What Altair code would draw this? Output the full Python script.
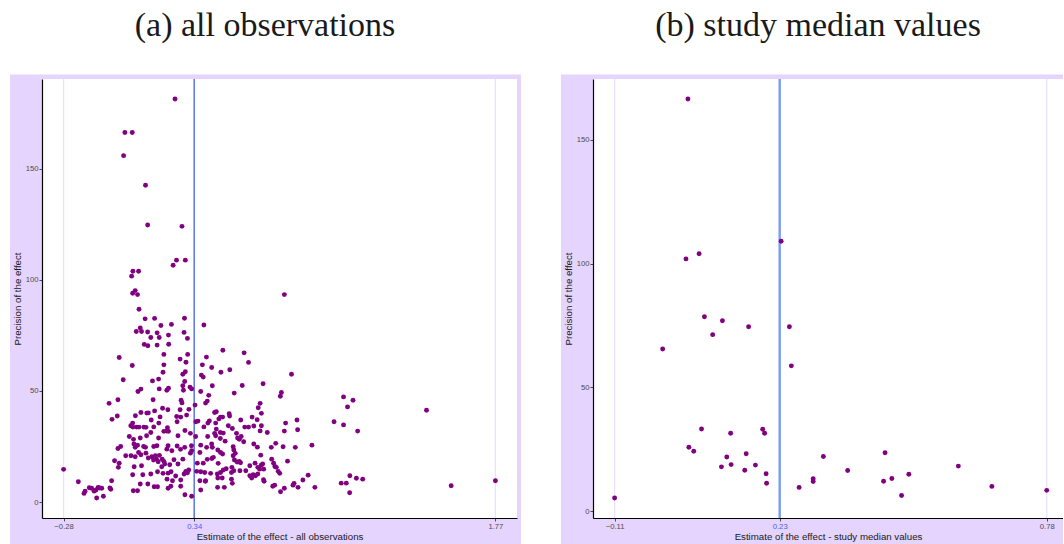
import altair as alt
import pandas as pd

# ---------------- data ----------------
left_x = [
    0.249, 0.011, 0.046, 0.005, 0.109, 0.119, 0.282,
    0.256, 0.298, 0.240, 0.049, 0.076, 0.043, 0.060, 0.048, 0.071, 0.768, 0.078, 0.107, 0.152,
    0.294, 0.386, 0.182, 0.232, 0.084, 0.065, 0.090, 0.119, 0.164, 0.292, 0.134, 0.174, 0.218,
    0.308, 0.103, 0.120, 0.164, 0.219, 0.476, 0.577, 0.196, 0.309, -0.016, 0.398, 0.273, 0.301,
    0.598, 0.046, 0.196, 0.379, 0.423, 0.509, 0.467, 0.192, 0.298, 0.286, 0.802, 0.374, 0.383,
    0.003, 0.142, 0.171, 0.295, 0.286, 0.426, 0.568, 0.667, 0.320, 0.218, 0.174, 0.087,
    0.073, 0.210, 0.328, 0.289, 0.371, -0.022, -0.064, 0.145, 0.278, 0.282, 0.344, 0.394, 0.402,
    0.409, 0.190, 0.215, 0.152, 0.115, 0.122, 0.273, 0.315, 0.087, -0.025, -0.050, 0.136, 0.178,
    0.257, 0.304, 0.048, 0.049, 0.067, 0.078, 0.101, 0.111, 0.172, 0.213, 0.210, 0.148, 0.196,
    0.259, 0.276, 0.296, 0.348, 0.358, 0.405, 0.412, 0.442, 0.457, 0.386, 0.464, 0.442, 0.404,
    0.263, 0.347, 0.322, 0.218, 0.032, 0.052, 0.084, 0.114, 0.134, 0.171, 0.054, 0.060, 0.071,
    0.109, 0.100, 0.148, 0.163, 0.216, 0.210, 0.259, 0.275, 0.295, 0.327, 0.234, 0.371, 0.399,
    0.328, 0.322, 0.367, -0.022, -0.009, 0.015, 0.040, 0.060, 0.076, 0.087, 0.111, 0.122, 0.139,
    0.147, 0.156, 0.175, 0.161, 0.169, 0.188, 0.196, 0.200, 0.186, 0.224, 0.244, 0.263, 0.286,
    0.300, 0.308, 0.292, 0.314, 0.352, 0.371, 0.390, 0.355, 0.383, 0.402, 0.424, 0.454, 0.450,
    0.055, 0.090, 0.096, 0.134, 0.166, 0.192, 0.216, 0.230, 0.252, 0.211, 0.237, 0.276, 0.367,
    0.394, 0.452, 0.048, 0.084, 0.120, 0.150, 0.166, 0.216, 0.229, 0.276, 0.051, 0.071, 0.371,
    0.393, 0.296, 0.328, -0.052, -0.020, -0.016,
    0.754, 0.749, 0.530, 0.653, 0.644, 0.659, 0.615, 0.561, 0.639, 0.580, 0.598, 0.623, 0.659,
    0.653, 0.687, 0.774, 0.768, 0.828, 0.831, 1.004, 0.437, 0.445, 0.465, 0.475, 0.506, 0.508,
    0.502, 0.521, 0.445, 0.437, 0.478, 0.541, 0.464, 0.487, 0.546, 0.563, 0.554, 0.575, 0.423,
    0.426, 0.525, 0.623, 0.640, 0.706, 0.727, 0.762, 0.820, 0.899, 0.452, 0.465, 0.475, 0.528,
    0.535, 0.525, 0.656, 0.431, 0.531, 0.544, 0.554, 0.560, 0.519, 0.708, 0.717, 0.629, 0.783,
    0.418, 0.465, 0.478, 0.492, 0.517, 0.528, 0.557, 0.585, 0.604, 0.642, 0.651, 0.658, 0.665,
    0.670, 0.730, 0.739, 0.746, 0.604, 0.613, 0.620, 0.631, 0.642, 0.669, 0.672, 0.473, 0.517,
    0.521, 0.451, 0.483, 0.713, 0.722, 0.750, 0.768, 0.809, 0.814, 0.833, 0.856, 0.881, 0.913,
    1.049, 1.094, 1.068, 1.443, 1.049, 1.116, 1.079, 1.038, 1.062, 1.110, 1.140, 1.078, 1.560,
    1.770, 0.723,
    -0.280, -0.210, -0.183, -0.178, -0.158, -0.147, -0.135, -0.123, -0.116, -0.108, -0.099,
    -0.091, -0.060, -0.056, -0.038, -0.126, 0.061, 0.039,
]
left_y = [
    181.3, 166.2, 166.2, 155.8, 142.5, 124.6, 124.0,
    108.8, 108.8, 106.5, 103.8, 103.8, 101.6, 95.1, 93.9, 93.3, 93.3, 86.7, 82.4, 82.6,
    82.7, 79.6, 79.4, 79.9, 78.3, 76.7, 76.7, 76.5, 76.1, 76.3, 74.0, 74.0, 75.1,
    73.6, 70.9, 70.3, 70.6, 71.0, 68.3, 67.1, 66.4, 66.4, 65.0, 65.2, 64.3, 62.9,
    62.8, 61.4, 61.7, 61.7, 60.5, 59.5, 58.4, 58.4, 58.6, 57.5, 57.5, 57.1, 56.2,
    55.0, 54.5, 55.3, 54.2, 52.3, 52.3, 52.4, 53.2, 51.7, 51.2, 50.9, 50.8,
    49.7, 50.3, 50.9, 50.3, 49.7, 46.0, 44.4, 46.0, 45.8, 44.6, 43.6, 44.5, 45.4,
    48.0, 42.2, 41.5, 41.0, 40.0, 40.1, 41.5, 41.7, 40.3, 38.7, 37.2, 36.9, 38.3,
    38.5, 39.1, 35.5, 33.7, 33.7, 33.7, 33.7, 33.6, 35.5, 33.4, 31.9, 33.8, 31.8,
    36.1, 38.2, 32.2, 36.1, 36.4, 35.5, 36.5, 35.5, 37.4, 33.8, 31.3, 29.8, 29.5,
    29.8, 29.5, 30.9, 31.8, 29.5, 28.2, 28.8, 29.8, 31.3, 28.8, 26.1, 24.6, 25.6,
    24.6, 25.0, 25.0, 25.3, 25.3, 23.8, 25.2, 23.7, 24.6, 25.3, 23.1, 25.6, 24.6,
    23.1, 22.0, 22.3, 24.1, 25.0, 20.8, 20.8, 20.4, 22.3, 21.3, 22.0, 19.8, 20.4,
    18.9, 20.8, 21.0, 19.3, 18.1, 19.3, 18.3, 17.1, 15.9, 16.8, 19.0, 17.1, 19.3,
    13.8, 13.2, 12.6, 14.4, 13.8, 13.6, 13.3, 17.5, 17.5, 19.2, 19.6, 17.4, 12.6,
    15.9, 16.3, 12.3, 12.6, 13.6, 12.9, 13.0, 13.6, 11.7, 10.3, 9.6, 9.9, 9.6,
    9.6, 10.8, 12.3, 8.1, 8.1, 6.9, 6.9, 6.2, 7.1, 7.1, 5.1, 5.1, 5.4,
    9.3, 3.3, 2.6, 9.6, 15.6, 17.5,
    49.3, 47.6, 49.0, 44.4, 42.4, 39.9, 38.2, 36.9, 37.0, 33.7, 33.7, 34.2, 34.3,
    32.0, 31.3, 35.5, 31.9, 36.9, 32.5, 36.1, 40.3, 40.6, 38.2, 38.2, 39.7, 38.7,
    34.3, 33.1, 32.8, 30.9, 31.0, 30.9, 28.6, 27.4, 28.8, 29.5, 28.2, 27.1, 26.1,
    24.6, 24.9, 26.1, 24.7, 24.6, 26.4, 24.9, 24.6, 25.6, 23.4, 22.3, 21.6, 23.4,
    21.9, 20.8, 21.1, 20.1, 18.9, 18.0, 18.3, 17.7, 15.6, 19.3, 17.5, 17.5, 18.4,
    12.9, 13.3, 14.4, 15.0, 13.3, 14.1, 14.1, 14.1, 16.3, 15.6, 14.8, 16.6, 17.1,
    14.8, 15.6, 13.8, 12.9, 11.8, 10.8, 12.3, 11.8, 12.6, 10.0, 9.3, 10.8, 10.3,
    8.4, 6.6, 6.6, 7.1, 7.6, 4.6, 6.2, 7.6, 8.4, 6.6, 9.9, 12.1, 6.6,
    47.3, 45.8, 42.8, 41.3, 34.7, 31.9, 11.8, 8.5, 8.5, 10.7, 10.3, 4.2, 7.3,
    9.6, 16.0,
    14.7, 9.1, 3.9, 4.9, 6.4, 6.2, 4.9, 1.8, 6.6, 6.3, 6.2,
    2.6, 6.3, 5.7, 18.6, 5.4, 38.8, 34.3,
]

right_x = [
    -0.110, 0.043, 0.053, 0.069, 0.110, 0.121, 0.129, 0.130, 0.158, 0.161, 0.180, 0.195,
    0.199, 0.202, 0.203, 0.270, 0.299, 0.299, 0.320, 0.370, 0.444, 0.447, 0.461, 0.481,
    0.496, 0.598, 0.667, 0.780, 0.041, 0.233, 0.064, 0.037, -0.011, 0.075, 0.092, 0.112,
    0.166, 0.250, 0.254,
]
right_y = [
    5.3, 25.8, 24.2, 33.2, 17.9, 21.9, 31.5, 18.8, 16.5, 23.2, 18.6, 33.1,
    31.5, 15.1, 11.3, 9.6, 13.1, 12.0, 22.1, 16.4, 12.1, 23.6, 13.2, 6.3,
    14.9, 18.2, 10.0, 8.4, 166.5, 109.0, 104.0, 101.9, 65.5, 78.5, 71.3, 76.9,
    74.5, 74.5, 58.7,
]

left_ticks = [-0.28, 0.34, 1.77]
right_ticks = [-0.11, 0.23, 0.78]
left_mean = [0.34]
right_mean = [0.23]
y_ticks = [0, 50, 100, 150]
panel_titles = ["(a) all observations", "(b) study median values"]
x_titles = ["Estimate of the effect - all observations",
            "Estimate of the effect - study median values"]
y_title = "Precision of the effect"

PURPLE = "#e4d4fe"
GRID = "#ebe1ff"
POINT = "#800080"
LABEL = "#4d4d4d"
PH = 439  # plot height


def padded(vals, frac=0.05):
    lo, hi = min(vals), max(vals)
    r = hi - lo
    return [lo - frac * r, hi + frac * r]


def panel(xs, ys, ticks, mean, title, xtitle, xdomain, width, anchor_left,
          purple_right, mean_color, mean_width, title_x):
    df = pd.DataFrame({"x": xs, "y": ys})
    one = pd.DataFrame({"t": [title]})
    xscale = alt.Scale(domain=xdomain, nice=False, zero=False)
    yscale = alt.Scale(domain=padded(ys), nice=False, zero=False)
    common = dict(
        labelFont="Liberation Sans", labelFontSize=7.7,
        titleFont="Liberation Sans", titleFontSize=9.7, titleFontWeight="normal",
        titleColor="#1a1a1a", domainColor="black", domainWidth=1.2,
        tickColor=LABEL, tickSize=3, tickWidth=1, grid=False, zindex=2,
        labelPadding=1,
    )
    xaxis = alt.Axis(
        values=ticks, format=".2f", title=xtitle, titlePadding=2,
        labelColor=alt.condition(f"datum.value == {mean[0]}",
                                 alt.value("#4a62f2"), alt.value(LABEL)),
        **common,
    )
    yaxis = alt.Axis(values=y_ticks, title=y_title, titlePadding=3,
                     labelColor=LABEL, **common)

    anchor = alt.Chart(one).mark_rect(color="white").encode(
        x=alt.value(anchor_left), x2=alt.value(0), y=alt.value(-79), y2=alt.value(0))
    purple = alt.Chart(one).mark_rect(color=PURPLE).encode(
        x=alt.value(-32), x2=alt.value(purple_right),
        y=alt.value(-4.5), y2=alt.value(PH + 26))
    white = alt.Chart(one).mark_rect(color="white").encode(
        x=alt.value(0), x2=alt.value(width), y=alt.value(0), y2=alt.value(PH))
    grid = alt.Chart(pd.DataFrame({"x": ticks})).mark_rule(
        color=GRID, strokeWidth=1.3).encode(
        x=alt.X("x:Q", scale=xscale, axis=xaxis))
    mrule = alt.Chart(pd.DataFrame({"x": mean})).mark_rule(
        color=mean_color, strokeWidth=mean_width).encode(
        x=alt.X("x:Q", scale=xscale, axis=xaxis))
    pts = alt.Chart(df).mark_circle(size=24, color=POINT, opacity=1).encode(
        x=alt.X("x:Q", scale=xscale, axis=xaxis),
        y=alt.Y("y:Q", scale=yscale, axis=yaxis))
    ttl = alt.Chart(one).mark_text(
        font="Liberation Serif", fontSize=34, color="#1a1a1a",
        align="center", baseline="alphabetic").encode(
        x=alt.value(title_x), y=alt.value(-43), text="t:N")
    return alt.layer(anchor, purple, white, grid, mrule, pts, ttl).properties(
        width=width, height=PH)


left = panel(left_x, left_y, left_ticks, left_mean, panel_titles[0], x_titles[0],
             padded(left_x), 475, -42, 479, "#4a66e0", 1.3, 223)

r_dom = padded(right_x)
right = panel(right_x, right_y, right_ticks, right_mean, panel_titles[1], x_titles[1],
              [r_dom[0], 0.8135], 470, -32, 470, "#7f9ff0", 2.5, 225)

chart = alt.hconcat(left, right, spacing=40).properties(
    padding=0, background="white"
).configure_view(
    strokeWidth=0
)

chart.save("out.html", embed_options={"renderer": "svg", "actions": False})
